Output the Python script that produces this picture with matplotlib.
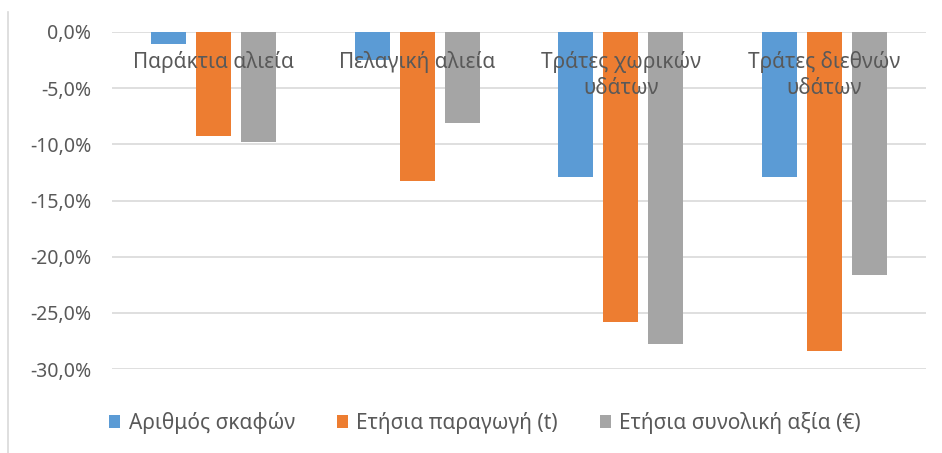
import numpy as np
import matplotlib
matplotlib.use('Agg')
from matplotlib import pyplot as plt
from matplotlib.lines import Line2D
from matplotlib.ticker import FuncFormatter

plt.rcParams['font.family'] = ['Noto Sans', 'DejaVu Sans']

categories = ['Παράκτια αλιεία', 'Πελαγική αλιεία', 'Τράτες χωρικών\nυδάτων', 'Τράτες διεθνών\nυδάτων']
series_names = ['Αριθμός σκαφών', 'Ετήσια παραγωγή (t)', 'Ετήσια συνολική αξία (€)']
vessels = [-1.1, -2.5, -12.9, -12.9]
production = [-9.3, -13.3, -25.8, -28.4]
value = [-9.8, -8.1, -27.8, -21.6]
colors = ['#5B9BD5', '#ED7D31', '#A5A5A5']
text_col = '#595959'
grid_col = '#D9D9D9'

fig = plt.figure(figsize=(9.42, 4.53), dpi=100)
ax = fig.add_axes([112/942, 1 - 369/453, (926 - 112)/942, (369 - 32)/453])

pos = np.arange(len(categories))
width = 0.172
step = 0.222
for i, (vals, name) in enumerate(zip([vessels, production, value], series_names)):
    ax.bar(pos + (i - 1)*step, vals, width, color=colors[i], label=name, zorder=2)

ax.set_xlim(-0.5, len(categories) - 0.5)
ax.set_ylim(-30, 0)
ax.set_yticks(np.arange(-30, 1, 5))
ax.yaxis.set_major_formatter(FuncFormatter(lambda v, p: '{:.1f}%'.format(v).replace('.', ',')))
ax.tick_params(axis='y', length=0, pad=15, labelsize=14, labelcolor=text_col)
ax.set_xticks([])
ax.grid(axis='y', color=grid_col, linewidth=1.2, zorder=0)
for s in ax.spines.values():
    s.set_visible(False)

# category names sit just under the zero line
for x, lab in zip(pos, categories):
    ax.annotate(lab, (x, 0), xytext=(0, -14), textcoords='offset points',
                ha='center', va='top', fontsize=15, color=text_col,
                linespacing=1.3, zorder=3)

fig.legend(loc='center', bbox_to_anchor=(485/942, 1 - 423/453), ncol=3,
           frameon=False, fontsize=15, labelcolor=text_col,
           handlelength=0.55, handleheight=0.55, handletextpad=0.4,
           columnspacing=2.0)

# chart frame edge on the left
fig.add_artist(Line2D([8/942, 8/942], [0, 1 - 12/453], transform=fig.transFigure,
                      color=grid_col, linewidth=1.2))

plt.savefig('out.png', dpi=100)
